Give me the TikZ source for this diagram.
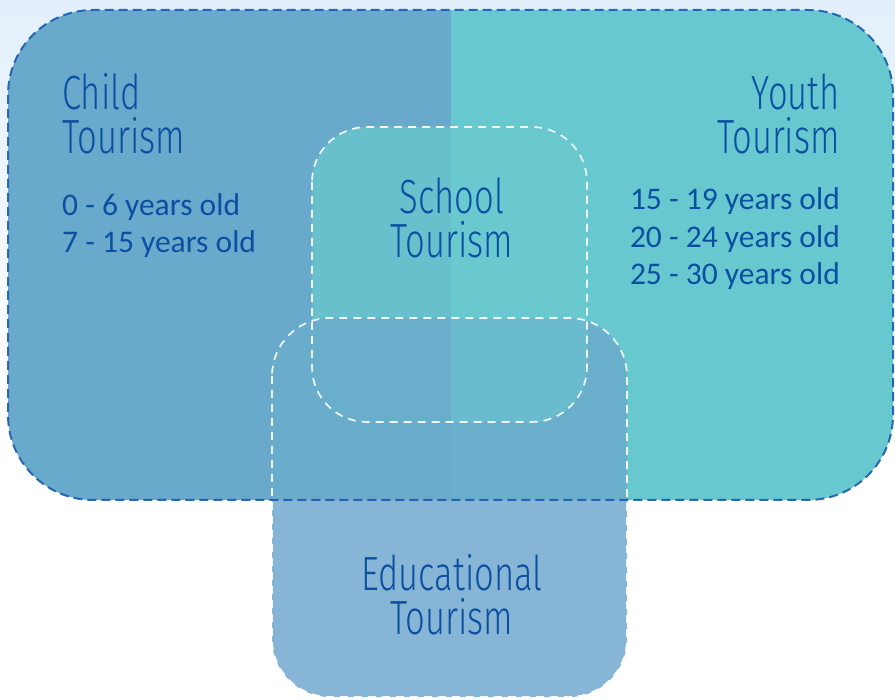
\documentclass[tikz,border=0pt]{standalone}
\usepackage{fontspec}
\setmainfont{Carlito}
\newfontfamily\hand[FakeStretch=0.72]{Fira Sans Light}
\definecolor{bgtop}{HTML}{E2EFFA}
\definecolor{bigL}{HTML}{69A9CC}
\definecolor{bigR}{HTML}{68C8CF}
\definecolor{eduW}{HTML}{86B5D6}
\definecolor{eduL}{HTML}{69ACCC}
\definecolor{eduR}{HTML}{6AB0CC}
\definecolor{schL}{HTML}{68C0CC}
\definecolor{schR}{HTML}{69C9CF}
\definecolor{ovL}{HTML}{69AFCC}
\definecolor{ovR}{HTML}{6ABBCD}
\definecolor{txt}{HTML}{0B4FA2}
\definecolor{bigline}{HTML}{1A5CAE}
\begin{document}
\begin{tikzpicture}[x=1pt,y=-1pt,
  title/.style={font=\hand\fontsize{48}{44}\selectfont, text=txt, inner sep=0pt},
  body/.style={font=\fontsize{31.5}{37.5}\selectfont, text=txt, inner sep=0pt},
  bigborder/.style={draw=bigline, line width=2pt, dash pattern=on 9pt off 5pt, draw opacity=0.9},
  whiteborder/.style={draw=white, line width=1.7pt, dash pattern=on 8pt off 6pt, draw opacity=0.9}]
\useasboundingbox (0,0) rectangle (895,700);
\shade[top color=bgtop, bottom color=white] (0,0) rectangle (895,420);
\fill[white] (0,420) rectangle (895,700);
% big shape halves
\begin{scope}
\clip[rounded corners=85pt] (8,10) rectangle (893,500);
\fill[bigL] (0,0) rectangle (451,700);
\fill[bigR] (451,0) rectangle (895,700);
\end{scope}
% educational box
\fill[eduW, rounded corners=58pt] (272,318) rectangle (627,697);
\begin{scope}
\clip[rounded corners=85pt] (8,10) rectangle (893,500);
\clip[rounded corners=58pt] (272,318) rectangle (627,697);
\fill[eduL] (0,0) rectangle (451,700);
\fill[eduR] (451,0) rectangle (895,700);
\end{scope}
% school box
\begin{scope}
\clip[rounded corners=55pt] (312,127) rectangle (587,422);
\fill[schL] (0,0) rectangle (451,700);
\fill[schR] (451,0) rectangle (895,700);
\clip[rounded corners=58pt] (272,318) rectangle (627,697);
\fill[ovL] (0,0) rectangle (451,700);
\fill[ovR] (451,0) rectangle (895,700);
\end{scope}
% outlines
\draw[bigborder, rounded corners=85pt] (8,10) rectangle (893,500);
\draw[whiteborder, rounded corners=55pt] (312,127) rectangle (587,422);
\draw[whiteborder, rounded corners=58pt] (272,318) rectangle (627,697);
% texts (anchor = baseline of last line)
\node[title, align=left, anchor=base west] (child) at (62,154) {Child\\Tourism};
\node[body, align=left, anchor=base west] (childages) at (62,253) {0 - 6 years old\\7 - 15 years old};
\node[title, align=right, anchor=base east] (youth) at (840,154) {Youth\\Tourism};
\node[body, align=right, anchor=base east] (youthages) at (840,285) {15 - 19 years old\\20 - 24 years old\\25 - 30 years old};
\node[title, align=center, anchor=base] (school) at (452,258) {School\\Tourism};
\node[title, align=center, anchor=base] (edu) at (452,634) {Educational\\Tourism};
\end{tikzpicture}
\end{document}
